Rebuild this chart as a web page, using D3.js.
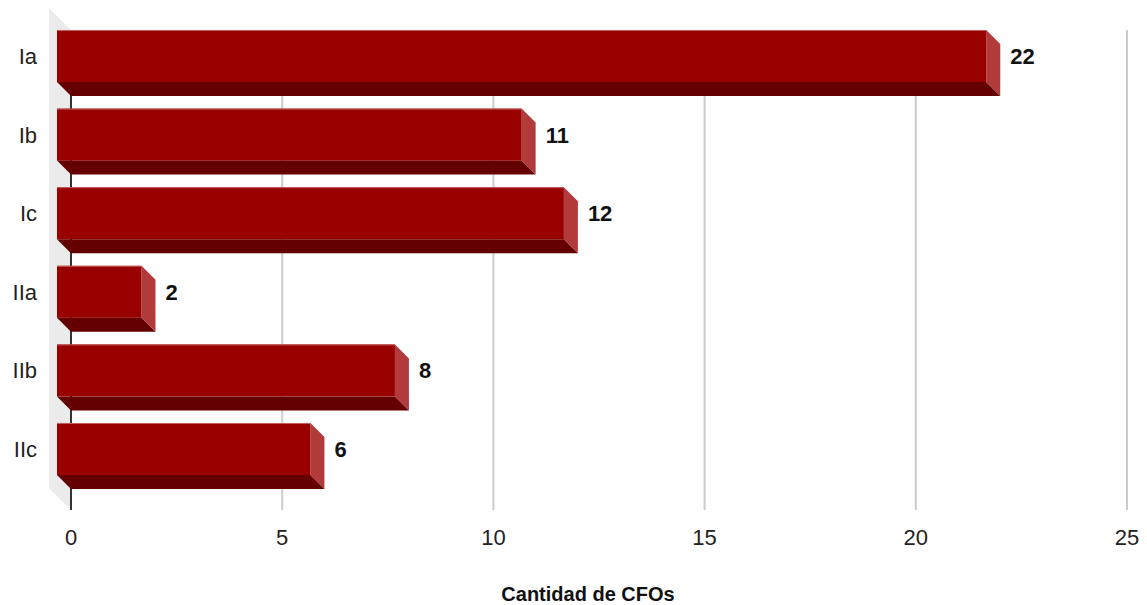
<!DOCTYPE html>
<html><head><meta charset="utf-8">
<script src="https://cdn.jsdelivr.net/npm/d3@7"></script>
<style>body{margin:0;background:#fff}svg{display:block;font-family:"Liberation Sans",Arial,sans-serif}</style>
</head><body><svg id="c" width="1147" height="605"></svg>
<script>
const categories = ["Ia","Ib","Ic","IIa","IIb","IIc"];
const values = [22,11,12,2,8,6];
const ticks = [0,5,10,15,20,25];
const axisTitle = "Cantidad de CFOs";

const svg = d3.select("#c");
const depth = 14, wallDepth = 22;
const x = d3.scaleLinear().domain([0,25]).range([71,1127]);
const y = d3.scaleBand().domain(categories).range([16.7,488.3]).paddingInner(0.338).paddingOuter(0.169);
const plotTop = 30, plotBottom = 510;

// wall
svg.append("polygon")
  .attr("points", [[x(0)-wallDepth,plotTop-wallDepth],[x(0),plotTop],[x(0),plotBottom],[x(0)-wallDepth,plotBottom-wallDepth]].map(p=>p.join(",")).join(" "))
  .attr("fill","#ebebeb");

// gridlines
svg.append("g").selectAll("line").data(ticks.filter(t=>t>0)).join("line")
  .attr("x1",d=>x(d)).attr("x2",d=>x(d)).attr("y1",plotTop).attr("y2",plotBottom)
  .attr("stroke","#cccccc").attr("stroke-width",2);
svg.append("line").attr("x1",x(0)).attr("x2",x(0)).attr("y1",plotTop).attr("y2",plotBottom)
  .attr("stroke","#333").attr("stroke-width",2);

// bars
const g = svg.append("g").selectAll("g").data(categories.map((c,i)=>({c,v:values[i]}))).join("g");
const pts = a => a.map(p=>p.join(",")).join(" ");
g.append("polygon").attr("fill","#640000").attr("points",d=>{
  const x0=x(0)-depth, x1=x(d.v)-depth, yb=y(d.c)+y.bandwidth();
  return pts([[x0,yb],[x1,yb],[x1+depth,yb+depth],[x0+depth,yb+depth]]);
});
g.append("polygon").attr("fill","#b33a3a").attr("points",d=>{
  const x1=x(d.v)-depth, yt=y(d.c), yb=yt+y.bandwidth();
  return pts([[x1,yt],[x1+depth,yt+depth],[x1+depth,yb+depth],[x1,yb]]);
});
g.append("rect").attr("fill","#990000")
  .attr("x",x(0)-depth).attr("y",d=>y(d.c))
  .attr("width",d=>x(d.v)-x(0)).attr("height",y.bandwidth());
g.append("line").attr("stroke","#c46060").attr("stroke-width",1)
  .attr("x1",x(0)-depth).attr("x2",d=>x(d.v)-depth).attr("y1",d=>y(d.c)+0.5).attr("y2",d=>y(d.c)+0.5);

// value labels
g.append("text").attr("x",d=>x(d.v)+10).attr("y",d=>y(d.c)+y.bandwidth()/2+8)
  .attr("font-size",22).attr("font-weight","bold").attr("fill","#111").text(d=>d.v);

// category labels
svg.append("g").selectAll("text").data(categories).join("text")
  .attr("x",37).attr("y",d=>y(d)+y.bandwidth()/2+8).attr("text-anchor","end")
  .attr("font-size",22).attr("fill","#222").text(d=>d);

// tick labels
svg.append("g").selectAll("text").data(ticks).join("text")
  .attr("x",d=>x(d)).attr("y",545).attr("text-anchor","middle")
  .attr("font-size",22).attr("fill","#222").text(d=>d);

svg.append("text").attr("x",588).attr("y",601).attr("text-anchor","middle")
  .attr("font-size",20).attr("font-weight","bold").attr("fill","#111").text(axisTitle);
</script></body></html>
